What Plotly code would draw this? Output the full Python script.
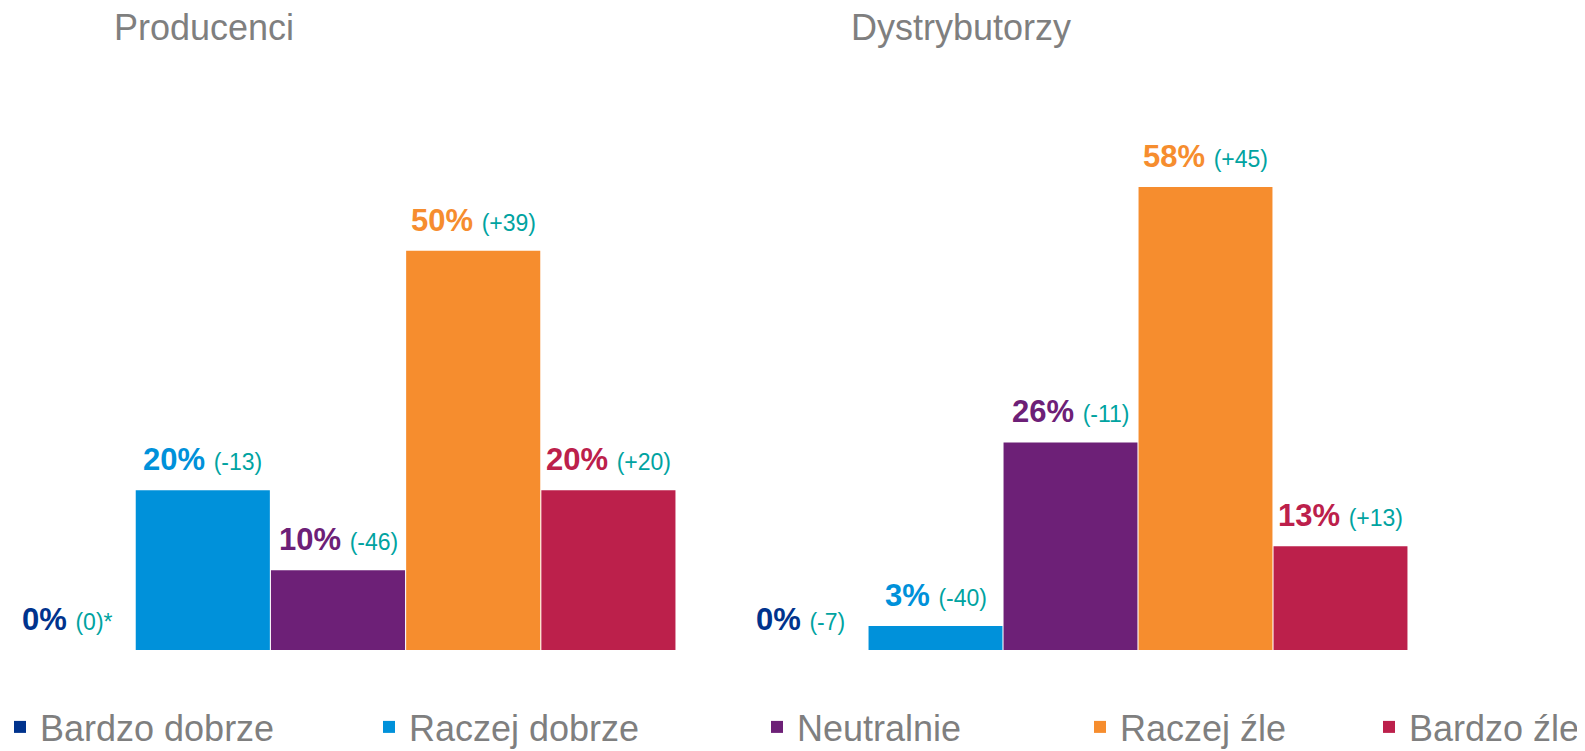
import plotly.graph_objects as go

categories = ["Bardzo dobrze", "Raczej dobrze", "Neutralnie", "Raczej źle", "Bardzo źle"]
colors = ["#00338D", "#0091DA", "#6D2077", "#F68D2E", "#BC204B"]

panel_titles = ["Producenci", "Dystrybutorzy"]
producenci = [0, 20, 10, 50, 20]
producenci_change = ["0", "-13", "-46", "+39", "+20"]
producenci_note = ["*", "", "", "", ""]
dystrybutorzy = [0, 3, 26, 58, 13]
dystrybutorzy_change = ["-7", "-40", "-11", "+45", "+13"]
dystrybutorzy_note = ["", "", "", "", ""]

TEAL = "#00A3A1"
GRAY = "#7F7F7F"
FONT = "Liberation Sans, Arial, sans-serif"

# page body has an 8px margin, so the figure is laid out in page px minus 8
W, H = 1577, 770
T = 163
BASE = 642
B = H - BASE
PH = BASE - T
BAR_W = 135.2

fig = go.Figure()

panels = [
    (producenci, producenci_change, producenci_note, "x", "y"),
    (dystrybutorzy, dystrybutorzy_change, dystrybutorzy_note, "x2", "y2"),
]

for p, (vals, chg, note, xa, ya) in enumerate(panels):
    for i, cat in enumerate(categories):
        leg = "legend" if i == 0 else f"legend{i+1}"
        fig.add_trace(go.Bar(
            x=[cat], y=[vals[i]], name=cat,
            marker=dict(color=colors[i], line=dict(width=0)),
            xaxis=xa, yaxis=ya,
            showlegend=(p == 0), legend=leg,
            hoverinfo="skip",
        ))
        fig.add_annotation(
            x=cat, y=vals[i], xref=xa, yref=ya,
            xanchor="center", yanchor="bottom", yshift=11,
            showarrow=False,
            text=(f"<b>{vals[i]}%</b> <span style='color:{TEAL};font-size:23px;font-weight:normal'>"
                  f"({chg[i]}){note[i]}</span>"),
            font=dict(family=FONT, size=31, color=colors[i]),
        )

ymax = 60
axis_common = dict(showgrid=False, zeroline=False, showticklabels=False, showline=False, ticks="")
left_end = 668
fig.update_layout(
    width=W, height=H,
    margin=dict(l=0, r=0, t=T, b=B, autoexpand=False),
    paper_bgcolor="white", plot_bgcolor="white",
    barmode="overlay", bargap=0.008,
    font=dict(family=FONT, color=GRAY),
    xaxis=dict(domain=[0, left_end / W], type="category", categoryorder="array",
               categoryarray=categories,
               range=[4.5 - left_end / BAR_W, 4.5], **axis_common),
    xaxis2=dict(domain=[725 / W, 1400 / W], type="category", categoryorder="array",
                categoryarray=categories, range=[-0.5, 4.5], **axis_common),
    yaxis=dict(range=[0, ymax], **axis_common),
    yaxis2=dict(range=[0, ymax], anchor="x2", **axis_common),
)

# legends, one per category, placed along the bottom
legend_x_px = [-8, 361, 749, 1072, None]
leg_y = (BASE - 719) / PH
for i in range(5):
    key = "legend" if i == 0 else f"legend{i+1}"
    if legend_x_px[i] is None:
        pos = dict(x=1.0, xanchor="right")
    else:
        pos = dict(x=legend_x_px[i] / W, xanchor="left")
    fig.update_layout(**{key: dict(
        y=leg_y, yanchor="middle", **pos,
        orientation="h", font=dict(family=FONT, size=36, color=GRAY),
        bgcolor="rgba(0,0,0,0)", borderwidth=0,
    )})

title_x_px = [104, 841]
for t, xp in zip(panel_titles, title_x_px):
    fig.add_annotation(
        x=xp / W, y=(BASE + 3) / PH, xref="paper", yref="paper",
        xanchor="left", yanchor="top", showarrow=False, text=t,
        font=dict(family=FONT, size=36, color=GRAY),
    )

fig.write_html("out.html")
